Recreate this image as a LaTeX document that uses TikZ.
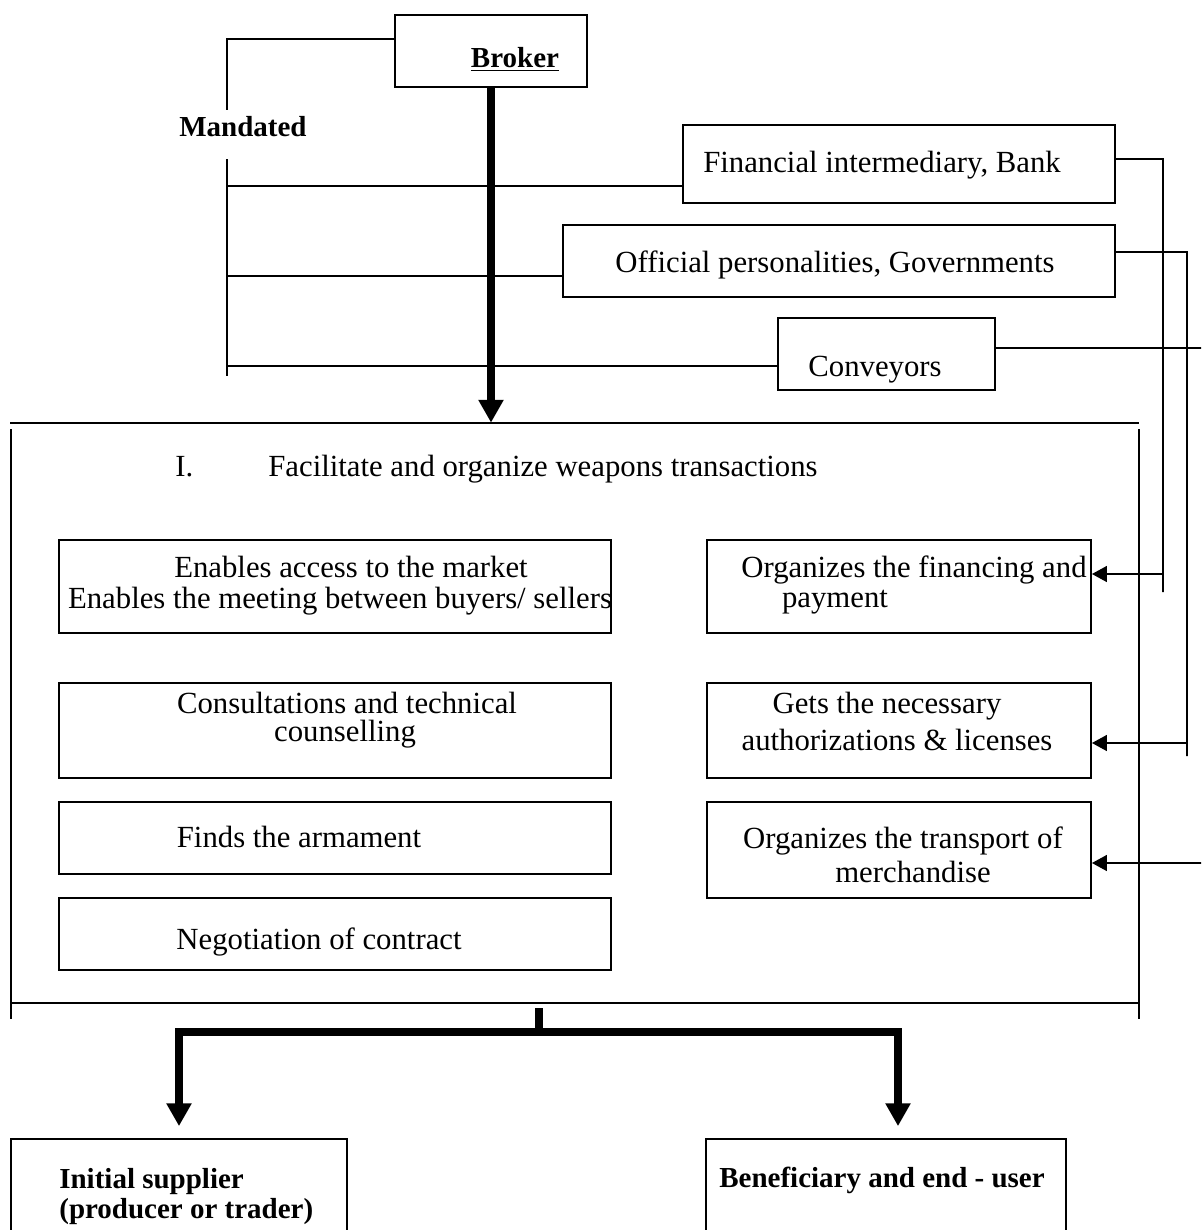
\documentclass[tikz,border=0pt]{standalone}
\usepackage{fontspec}
\setmainfont{Liberation Serif}
\usetikzlibrary{arrows.meta,fit,calc}
\begin{document}
\begin{tikzpicture}[x=0.02cm,y=-0.02cm,
  thinline/.style={line width=1.05pt},
  box/.style={draw,line width=1.05pt,inner sep=0pt},
  txt/.style={inner sep=0pt,anchor=base,font=\fontsize{17.5}{21}\selectfont},
  btxt/.style={inner sep=0pt,anchor=base,font=\fontsize{16.5}{20}\selectfont\bfseries},
  bigarrow/.style={line width=4.2pt,-{Triangle[width=13.6pt,length=13pt]}},
  bigline/.style={line width=4.2pt},
  smallarrow/.style={line width=1.05pt,-{Triangle[width=9pt,length=8.5pt]}},
]
\clip (0,0) rectangle (1201,1230);
\fill[white] (0,0) rectangle (1201,1230);

% ---- broker and the parties it mandates ----
\node[box,fit={(395,15)(587,87)}] (broker) {};
\node[btxt] (brokertxt) at (515,68) {\underline{Broker}};
\node[btxt,anchor=base west] (mand) at (179,136) {Mandated};

\node[box,fit={(683,125)(1115,203)}] (fin) {};
\node[txt] (fintxt) at (882,172) {Financial intermediary, Bank};
\node[box,fit={(563,225)(1115,297)}] (off) {};
\node[txt] (offtxt) at (835,272) {Official personalities, Governments};
\node[box,fit={(778,318)(995,390)}] (conv) {};
\node[txt] (convtxt) at (875,376) {Conveyors};

% bracket on the left
\coordinate (mtop) at (227,39);
\coordinate (mgapA) at (227,110);
\coordinate (mgapB) at (227,159);
\coordinate (mbot) at (227,376);
\coordinate (b1) at (227,186);
\coordinate (b2) at (227,276);
\coordinate (b3) at (227,366);
\draw[thinline] (mtop -| broker.west) -- (mtop) -- (mgapA);
\draw[thinline] (mgapB) -- (mbot);
\draw[thinline] (b1) -- (b1 -| fin.west);
\draw[thinline] (b2) -- (b2 -| off.west);
\draw[thinline] (b3) -- (b3 -| conv.west);

% ---- activities frame ----
\node[inner sep=0pt,fit={(11,423)(1139,1003)}] (frame) {};
\draw[thinline] (10,423) -- (1139,423);
\draw[thinline] (11,429) -- (11,1019);
\draw[thinline] (1139,429) -- (1139,1019);
\draw[thinline] (10,1003) -- (1139,1003);

\draw[bigarrow] (broker.south) -- (broker.south |- frame.north);

\node[txt,anchor=base west] (num) at (175,476) {I.};
\node[txt,anchor=base west] (title) at (268,476) {Facilitate and organize weapons transactions};

% left column
\node[box,fit={(59,540)(611,633)}] (access) {};
\node[txt] at (351,577) {Enables access to the market};
\node[txt] at (340,608) {Enables the meeting between buyers/ sellers};
\node[box,fit={(59,683)(611,778)}] (consult) {};
\node[txt] at (347,713) {Consultations and technical};
\node[txt] at (345,741) {counselling};
\node[box,fit={(59,802)(611,874)}] (finds) {};
\node[txt] at (299,847) {Finds the armament};
\node[box,fit={(59,898)(611,970)}] (nego) {};
\node[txt] at (319,949) {Negotiation of contract};

% right column
\node[box,fit={(707,540)(1091,633)}] (finance) {};
\node[txt] at (914,577) {Organizes the financing and};
\node[txt] at (835,607) {payment};
\node[box,fit={(707,683)(1091,778)}] (gets) {};
\node[txt] at (887,713) {Gets the necessary};
\node[txt] at (897,750) {authorizations \& licenses};
\node[box,fit={(707,802)(1091,898)}] (transport) {};
\node[txt] at (903,848) {Organizes the transport of};
\node[txt] at (913,882) {merchandise};

% ---- links on the right ----
\coordinate (c1) at (1163,574);
\coordinate (c2) at (1187,743);
\coordinate (c3) at (1215,863);
\draw[thinline] ([yshift=0.1cm]fin.east) -- (1163,159) -- (1163,592);
\draw[smallarrow] (c1) -- (c1 -| finance.east);
\draw[thinline] ([yshift=0.18cm]off.east) -- (1187,252) -- (1187,756);
\draw[smallarrow] (c2) -- (c2 -| gets.east);
\draw[thinline] ([yshift=0.12cm]conv.east) -- (1215,348);
\draw[smallarrow] (c3) -- (c3 -| transport.east);

% ---- parties at the ends of the transaction ----
\node[box,fit={(11,1139)(347,1260)}] (supplier) {};
\node[btxt,anchor=base west] at (59,1188) {Initial supplier};
\node[btxt,anchor=base west] at (59,1218) {(producer or trader)};
\node[box,fit={(706,1139)(1066,1260)}] (benef) {};
\node[btxt,anchor=base west] at (719,1187) {Beneficiary and end - user};

\coordinate (j) at (539,1032);
\draw[bigline] (j |- frame.south) ++(0,5) -- (j);
\draw[bigarrow,shorten >=6.8pt] (j) -| (supplier.north);
\draw[bigarrow,shorten >=6.8pt] (j) -| ([xshift=0.24cm]benef.north);
\end{tikzpicture}
\end{document}
